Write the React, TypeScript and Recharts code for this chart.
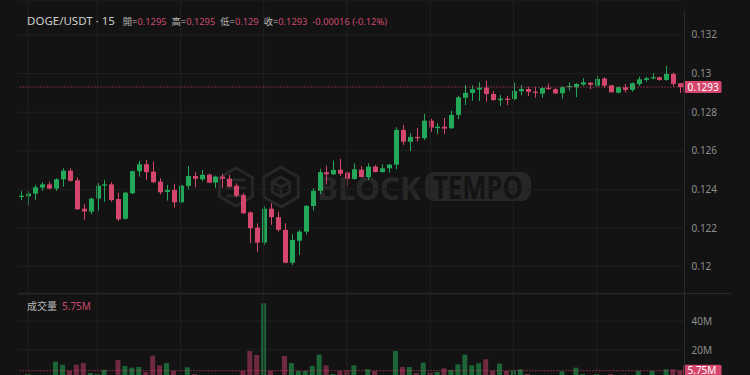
import {
  Bar,
  BarChart,
  CartesianGrid,
  Cell,
  ComposedChart,
  ReferenceLine,
  XAxis,
  YAxis,
} from "recharts";

// DOGE/USDT 15分K，最後 96 根
const opens = [
  0.12362, 0.12364, 0.12378, 0.12409, 0.12426, 0.12404, 0.12452, 0.12497, 0.12447, 0.123,
  0.12285, 0.12352, 0.12419, 0.12426, 0.1235, 0.12248, 0.1238, 0.12494, 0.1253, 0.12492,
  0.1244, 0.12387, 0.12397, 0.12333, 0.12418, 0.12469, 0.12452, 0.12476, 0.12435, 0.12466,
  0.12455, 0.12419, 0.1237, 0.12281, 0.12202, 0.12124, 0.123, 0.12256, 0.1219, 0.1202,
  0.12134, 0.12181, 0.12314, 0.12393, 0.12489, 0.12478, 0.12502, 0.12487, 0.12454, 0.12502,
  0.12464, 0.12518, 0.1249, 0.12509, 0.12528, 0.12708, 0.12647, 0.12672, 0.12665, 0.12756,
  0.12717, 0.12725, 0.12717, 0.12786, 0.12875, 0.129, 0.12917, 0.12927, 0.12894, 0.12862,
  0.1287, 0.12868, 0.12908, 0.1292, 0.12906, 0.12896, 0.12927, 0.12919, 0.12898, 0.12932,
  0.12929, 0.12943, 0.12953, 0.12937, 0.12974, 0.12939, 0.12901, 0.12929, 0.12915, 0.12946,
  0.12967, 0.12976, 0.12981, 0.12967, 0.12998, 0.1295,
];
const highs = [
  0.12392, 0.12392, 0.12423, 0.12437, 0.1244, 0.12458, 0.12509, 0.12509, 0.12461, 0.12324,
  0.12357, 0.12432, 0.12449, 0.12437, 0.12383, 0.12387, 0.12497, 0.12547, 0.12552, 0.12544,
  0.12458, 0.12423, 0.12428, 0.12423, 0.12521, 0.1249, 0.12501, 0.12483, 0.12471, 0.1248,
  0.12476, 0.12432, 0.1238, 0.12285, 0.12224, 0.12314, 0.12328, 0.12285, 0.12224, 0.12167,
  0.1219, 0.12319, 0.12406, 0.12506, 0.12523, 0.12549, 0.12558, 0.12494, 0.12535, 0.12521,
  0.12535, 0.12526, 0.1253, 0.12532, 0.12722, 0.12734, 0.12691, 0.12717, 0.12791, 0.12766,
  0.12743, 0.1277, 0.12808, 0.12884, 0.12941, 0.12939, 0.12955, 0.12963, 0.1291, 0.12889,
  0.12884, 0.12953, 0.12941, 0.12932, 0.12932, 0.12929, 0.12948, 0.12924, 0.12936, 0.12955,
  0.1295, 0.12976, 0.12955, 0.12988, 0.12981, 0.12941, 0.12932, 0.12946, 0.12953, 0.12984,
  0.12984, 0.13002, 0.12984, 0.13039, 0.13005, 0.1295,
];
const lows = [
  0.12344, 0.12316, 0.12345, 0.12393, 0.12399, 0.12392, 0.12414, 0.1244, 0.12293, 0.12242,
  0.12271, 0.1229, 0.12336, 0.12336, 0.12236, 0.12242, 0.12376, 0.12466, 0.12449, 0.12432,
  0.12375, 0.12342, 0.12305, 0.12331, 0.12401, 0.12411, 0.12442, 0.12432, 0.12407, 0.12406,
  0.12411, 0.12359, 0.12273, 0.12121, 0.12074, 0.12112, 0.12216, 0.12181, 0.12017, 0.12008,
  0.1206, 0.12167, 0.1229, 0.12376, 0.12426, 0.12475, 0.12469, 0.12418, 0.1245, 0.12461,
  0.1245, 0.12487, 0.12487, 0.12487, 0.12504, 0.1263, 0.12599, 0.12647, 0.12656, 0.12697,
  0.12687, 0.12687, 0.12713, 0.12763, 0.12837, 0.1286, 0.12858, 0.12854, 0.12858, 0.12832,
  0.12837, 0.12863, 0.12888, 0.12884, 0.12875, 0.12875, 0.12915, 0.12893, 0.1287, 0.12911,
  0.12877, 0.12936, 0.12919, 0.12932, 0.12927, 0.12901, 0.12898, 0.12901, 0.12906, 0.12936,
  0.12958, 0.1297, 0.12963, 0.12963, 0.12932, 0.129,
];
const closes = [
  0.12367, 0.12378, 0.12411, 0.12426, 0.12404, 0.12452, 0.12497, 0.12444, 0.12297, 0.12285,
  0.12352, 0.12419, 0.12426, 0.12344, 0.12245, 0.12383, 0.12494, 0.1253, 0.12489, 0.12437,
  0.12385, 0.12397, 0.12333, 0.12419, 0.12469, 0.12455, 0.12475, 0.12435, 0.12466, 0.12455,
  0.12414, 0.12367, 0.12276, 0.12199, 0.12124, 0.123, 0.12256, 0.1219, 0.1202, 0.12138,
  0.12181, 0.12314, 0.12393, 0.12489, 0.12478, 0.12501, 0.12481, 0.12454, 0.12504, 0.12464,
  0.12518, 0.1249, 0.12509, 0.12528, 0.12708, 0.12647, 0.12672, 0.12665, 0.12756, 0.1272,
  0.12725, 0.12715, 0.12786, 0.12877, 0.129, 0.12919, 0.12927, 0.12894, 0.12863, 0.1287,
  0.12863, 0.1291, 0.1292, 0.12905, 0.129, 0.12925, 0.1292, 0.12897, 0.12929, 0.12936,
  0.12946, 0.12955, 0.12941, 0.12972, 0.12937, 0.12903, 0.12929, 0.12915, 0.1295, 0.1297,
  0.12976, 0.12981, 0.12967, 0.12998, 0.12946, 0.1293,
];
// 成交量（百萬）
const volumes = [
  1.2, 3.4, 2.0, 1.8, 2.2, 11.9, 9.9, 5.5, 9.9, 11.0,
  4.1, 3.4, 6.4, 2.5, 13.1, 9.0, 7.8, 8.3, 4.8, 16.1,
  9.4, 11.0, 5.5, 2.4, 8.1, 3.4, 2.2, 1.9, 2.1, 1.6,
  2.3, 2.6, 5.5, 19.3, 16.6, 52.2, 5.5, 2.6, 15.9, 11.0,
  5.5, 5.5, 9.0, 16.8, 9.4, 3.4, 5.5, 6.0, 9.4, 2.5,
  6.7, 5.5, 2.3, 2.7, 19.3, 8.3, 8.3, 4.1, 11.3, 4.4,
  4.8, 7.4, 6.2, 10.1, 16.8, 9.4, 10.8, 13.6, 5.5, 10.6,
  5.5, 6.0, 6.7, 3.4, 2.1, 1.8, 2.3, 2.0, 5.3, 2.4,
  7.8, 3.4, 2.2, 3.4, 2.0, 3.4, 2.5, 3.0, 2.2, 5.5,
  2.6, 5.5, 2.4, 6.7, 6.7, 5.75,
];
const priceTicks = [0.12, 0.122, 0.124, 0.126, 0.128, 0.13, 0.132];
const volumeTicks = [20, 40];
const gridIdx = [1, 11, 23, 35, 47, 59, 71, 83];

const UP = "#23a85a";
const DOWN = "#d4466c";
const VOL_UP = "#1c6537";
const VOL_DOWN = "#702a40";
const BG = "#131313";
const GRID = "#202020";
const AXIS_TEXT = "#8d8d8d";

const rows = opens.map((o, i) => ({
  i,
  o,
  h: highs[i],
  l: lows[i],
  c: closes[i],
  v: volumes[i],
  up: closes[i] >= o,
}));

const last = rows[rows.length - 1];
const prev = rows[rows.length - 2];
const chg = last.c - prev.c;
const fmt = (p: number) => String(Number(p.toFixed(5)));

function Candle(props: any) {
  const { x, y, width, height, payload } = props;
  const { o, h, l, c, up } = payload;
  const k = height / (h - l || 1);
  const py = (p: number) => y + (h - p) * k;
  const cx = Math.round(x + width / 2) + 0.5;
  const top = py(Math.max(o, c));
  const bot = py(Math.min(o, c));
  const col = up ? UP : DOWN;
  return (
    <g>
      <line x1={cx} x2={cx} y1={y} y2={y + height} stroke={col} strokeWidth={1} />
      <rect x={cx - 2.5} y={top} width={5} height={Math.max(bot - top, 1.2)} fill={col} />
    </g>
  );
}

function PriceTag(props: any) {
  const { viewBox, text } = props;
  const x = viewBox.x + viewBox.width;
  const y = viewBox.y;
  return (
    <g>
      <rect x={x} y={y - 6} width={38} height={12} rx={1.5} fill={DOWN} />
      <text x={x + 4} y={y} dy="0.35em" fill="#fff" fontSize={10}>
        {text}
      </text>
    </g>
  );
}

function Watermark() {
  const hex = (cx: number, cy: number, r: number) =>
    [0, 1, 2, 3, 4, 5]
      .map((n) => {
        const a = (Math.PI / 3) * n - Math.PI / 2;
        return `${cx + r * Math.cos(a)},${cy + r * Math.sin(a)}`;
      })
      .join(" ");
  const wm = "#272727";
  return (
    <svg width={750} height={375} style={{ position: "absolute", left: 0, top: 0 }}>
      <polygon points={hex(236, 187, 19)} fill="none" stroke={wm} strokeWidth={3} />
      <path d="M226 180 L246 180 M226 188 L246 188 M226 196 L246 196" stroke={wm} strokeWidth={3} />
      <polygon points={hex(281, 187, 20)} fill="none" stroke={wm} strokeWidth={3} />
      <polygon points={hex(281, 187, 10)} fill="none" stroke={wm} strokeWidth={3} />
      <path d="M281 187 L281 197 M281 187 L272 182 M281 187 L290 182" stroke={wm} strokeWidth={3} />
      <text x={317} y={200} fontSize={32} fontWeight={700} fill={wm} textLength={104} lengthAdjust="spacingAndGlyphs">
        BLOCK
      </text>
      <rect x={425} y={172} width={106} height={29} rx={9} fill={wm} />
      <text x={433} y={199} fontSize={32} fontWeight={700} fill={BG} textLength={90} lengthAdjust="spacingAndGlyphs">
        TEMPO
      </text>
    </svg>
  );
}

export default function App() {
  const red = "#cf4a6e";
  const lab = { color: "#b9b9b9", marginLeft: 5 };
  return (
    <div
      style={{
        position: "fixed",
        left: 0,
        top: 0,
        width: 750,
        height: 375,
        overflow: "hidden",
        background: BG,
        fontFamily: '"Noto Sans", "Noto Sans CJK TC", sans-serif',
      }}
    >
      <Watermark />
      <div style={{ position: "absolute", left: 0, top: 0 }}>
        <ComposedChart width={750} height={294} data={rows} margin={{ top: 0, right: 18.5, bottom: 0, left: 17.5 }}>
          <CartesianGrid stroke={GRID} vertical={false} />
          <XAxis dataKey="i" type="category" hide />
          <YAxis
            orientation="right"
            width={48}
            domain={[0.11858, 0.13381]}
            ticks={priceTicks}
            allowDataOverflow
            tickFormatter={(p: number) => String(Number(p.toFixed(3)))}
            tick={{ fill: AXIS_TEXT, fontSize: 10 }}
            axisLine={false}
            tickLine={false}
          />
          {gridIdx.map((g) => (
            <ReferenceLine key={g} x={g} stroke={GRID} />
          ))}
          <Bar dataKey={(d: any) => [d.l, d.h]} shape={Candle} isAnimationActive={false} />
          <ReferenceLine
            y={last.c}
            stroke={DOWN}
            strokeDasharray="1 2"
            label={(p: any) => <PriceTag {...p} text={fmt(last.c)} />}
          />
        </ComposedChart>
      </div>
      <div style={{ position: "absolute", left: 0, top: 294 }}>
        <BarChart width={750} height={85} data={rows} margin={{ top: 0, right: 18.5, bottom: 0, left: 17.5 }} barCategoryGap="12%">
          <CartesianGrid stroke={GRID} vertical={false} />
          <XAxis dataKey="i" type="category" hide />
          <YAxis
            orientation="right"
            width={48}
            domain={[0, 58.6]}
            ticks={volumeTicks}
            tickFormatter={(v: number) => `${v}M`}
            tick={{ fill: AXIS_TEXT, fontSize: 10 }}
            axisLine={false}
            tickLine={false}
          />
          {gridIdx.map((g) => (
            <ReferenceLine key={g} x={g} stroke={GRID} />
          ))}
          <Bar dataKey="v" isAnimationActive={false}>
            {rows.map((r) => (
              <Cell key={r.i} fill={r.up ? VOL_UP : VOL_DOWN} />
            ))}
          </Bar>
          <ReferenceLine
            y={last.v}
            stroke={DOWN}
            strokeDasharray="1 2"
            label={(p: any) => <PriceTag {...p} text={`${last.v}M`} />}
          />
        </BarChart>
      </div>
      {/* 分隔線與右側軸線 */}
      <div style={{ position: "absolute", left: 18, top: 293, width: 713, height: 1, background: "#2a2a2a" }} />
      <div style={{ position: "absolute", left: 684, top: 10, width: 1, height: 365, background: "#262a33" }} />
      <div
        style={{
          position: "absolute",
          left: 27,
          top: 12,
          fontSize: 11.5,
          lineHeight: "18px",
          color: "#cdcdcd",
          whiteSpace: "nowrap",
          display: "flex",
          alignItems: "baseline",
        }}
      >
        <span>DOGE/USDT · 15</span>
        <span style={{ fontSize: 9.3, marginLeft: 8, display: "flex" }}>
          <span style={{ color: "#b9b9b9" }}>開=</span>
          <span style={{ color: red }}>{fmt(last.o)}</span>
          <span style={lab}>高=</span>
          <span style={{ color: red }}>{fmt(last.h)}</span>
          <span style={lab}>低=</span>
          <span style={{ color: red }}>{fmt(last.l)}</span>
          <span style={lab}>收=</span>
          <span style={{ color: red }}>{fmt(last.c)}</span>
          <span style={{ color: red, marginLeft: 5 }}>
            {chg.toFixed(5)} ({((chg / prev.c) * 100).toFixed(2)}%)
          </span>
        </span>
      </div>
      <div style={{ position: "absolute", left: 27, top: 298, fontSize: 10, lineHeight: "16px", whiteSpace: "nowrap" }}>
        <span style={{ color: "#b9b9b9" }}>成交量</span>
        <span style={{ color: red, marginLeft: 5 }}>{last.v}M</span>
      </div>
    </div>
  );
}
